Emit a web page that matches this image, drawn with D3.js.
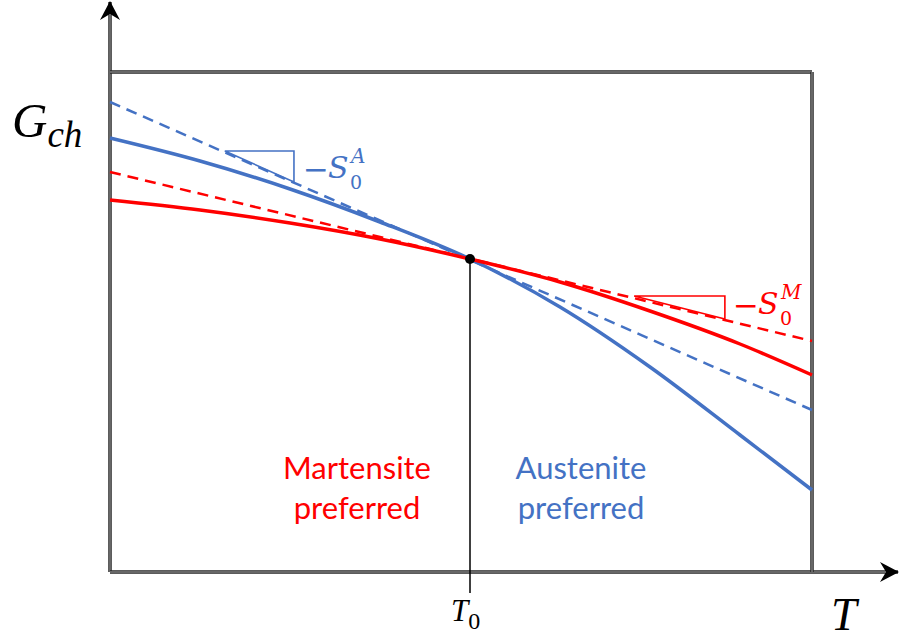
<!DOCTYPE html>
<html>
<head>
<meta charset="utf-8">
<script src="https://cdn.jsdelivr.net/npm/d3@7"></script>
<style>
  body { margin: 0; background: #fff; }
  svg { display: block; }
  .math { font-family: "Liberation Serif", "DejaVu Serif", serif; }
  .sym { font-family: "DejaVu Serif", serif; }
  .note { font-family: Lato, "Open Sans", sans-serif; font-size: 31px; }
</style>
</head>
<body>
<script>
// temperature grid (T0 = 1) and Gibbs energies
var temps = [0, 0.25, 0.5, 0.75, 1, 1.25, 1.5, 1.75, 1.95];
var austenite = [8.68, 8.22, 7.66, 7.00, 6.26, 5.30, 4.10, 2.74, 1.64];
var martensite = [7.44, 7.24, 6.98, 6.66, 6.26, 5.80, 5.22, 4.56, 3.94];
var tangentT = [0, 1.95];
var tangentA = [9.40, 3.24];
var tangentM = [8.00, 4.62];
var T0 = 1, G0 = 6.26;
// slope triangles [T left, T right, G top, G bottom]
var triA = [0.319, 0.511, 8.42, 7.80];
var triM = [1.456, 1.708, 5.52, 5.06];

var blue = "#4472C4", red = "#FF0000";
var W = 900, H = 640;

var svg = d3.select("body").append("svg")
    .attr("width", W)
    .attr("height", H);

var x = d3.scaleLinear().domain([0, 1.95]).range([110, 812]);
var y = d3.scaleLinear().domain([0, 10]).range([572, 72]);

// arrow head
var defs = svg.append("defs");
defs.append("marker")
    .attr("id", "arr")
    .attr("viewBox", "0 0 20 20")
    .attr("refX", 18).attr("refY", 10)
    .attr("markerWidth", 20).attr("markerHeight", 20)
    .attr("markerUnits", "userSpaceOnUse")
    .attr("orient", "auto")
  .append("path")
    .attr("d", "M0,0 L19,10 L0,20 L6,10 Z")
    .attr("fill", "#000");

// frame drawn as double lines
function dbl(x1, y1, x2, y2, arrow) {
  var l = svg.append("line")
      .attr("x1", x1).attr("y1", y1).attr("x2", x2).attr("y2", y2)
      .attr("stroke", "#262626").attr("stroke-width", 3.5);
  if (arrow) l.attr("marker-end", "url(#arr)");
  svg.append("line")
      .attr("x1", x1).attr("y1", y1).attr("x2", arrow ? x2 - (x2 - x1 ? 12 : 0) : x2)
      .attr("y2", arrow ? y2 + (y2 - y1 ? 12 : 0) : y2)
      .attr("stroke", "#a8a8a8").attr("stroke-width", 1);
}
dbl(x(0), y(0), x(0), 2, true);            // vertical axis
dbl(x(0), y(0), 898, y(0), true);          // horizontal axis
dbl(x(0), y(10), x(1.95), y(10), false);   // top
dbl(x(1.95), y(10), x(1.95), y(0), false); // right

var line = d3.line()
    .x(function(d){ return x(d[0]); })
    .y(function(d){ return y(d[1]); })
    .curve(d3.curveMonotoneX);

// tangents
svg.append("path")
    .datum(d3.zip(tangentT, tangentA))
    .attr("d", line)
    .attr("fill", "none").attr("stroke", blue)
    .attr("stroke-width", 2.5).attr("stroke-dasharray", "11,7");
svg.append("path")
    .datum(d3.zip(tangentT, tangentM))
    .attr("d", line)
    .attr("fill", "none").attr("stroke", red)
    .attr("stroke-width", 2.5).attr("stroke-dasharray", "11,7");

// curves
svg.append("path")
    .datum(d3.zip(temps, austenite))
    .attr("d", line)
    .attr("fill", "none").attr("stroke", blue).attr("stroke-width", 3.5);
svg.append("path")
    .datum(d3.zip(temps, martensite))
    .attr("d", line)
    .attr("fill", "none").attr("stroke", red).attr("stroke-width", 3.5);

// slope triangles
function tri(t, col) {
  svg.append("path")
      .attr("d", "M" + x(t[0]) + "," + y(t[2]) + "L" + x(t[1]) + "," + y(t[2]) +
                 "L" + x(t[1]) + "," + y(t[3]) + "Z")
      .attr("fill", "none").attr("stroke", col).attr("stroke-width", 1.6);
}
tri(triA, blue);
tri(triM, red);

// T0 marker
svg.append("line")
    .attr("x1", x(T0)).attr("y1", y(G0))
    .attr("x2", x(T0)).attr("y2", y(0) + 21)
    .attr("stroke", "#000").attr("stroke-width", 1.5);
svg.append("circle")
    .attr("cx", x(T0)).attr("cy", y(G0)).attr("r", 5)
    .attr("fill", "#000");

// entropy labels: -S, subscript 0 and phase superscript
function slopeLabel(px, base, sup, col) {
  var t = svg.append("text").attr("class", "sym").attr("fill", col);
  t.append("tspan").attr("x", px - 4).attr("y", base + 2)
      .attr("font-size", 31).text("\u2212");
  t.append("tspan").attr("x", px + 21).attr("y", base)
      .attr("font-size", 30).attr("font-style", "italic").text("S");
  t.append("tspan").attr("x", px + 43).attr("y", base + 11)
      .attr("font-size", 19).text("0");
  t.append("tspan").attr("x", px + 44).attr("y", base - 15)
      .attr("font-size", 20).attr("font-style", "italic").text(sup);
}
slopeLabel(307, 178, "A", blue);
slopeLabel(737, 314, "M", red);

// axis labels
var gl = svg.append("text").attr("class", "math").attr("x", 12).attr("y", 137);
gl.append("tspan").attr("font-size", 49).attr("font-style", "italic").text("G");
gl.append("tspan").attr("font-size", 37).attr("font-style", "italic")
    .attr("dy", 10).text("ch");

svg.append("text").attr("class", "math")
    .attr("x", 831).attr("y", 630)
    .attr("font-size", 46).attr("font-style", "italic").text("T");

var t0 = svg.append("text").attr("class", "math").attr("x", 451).attr("y", 621);
t0.append("tspan").attr("font-size", 31).attr("font-style", "italic").text("T");
t0.append("tspan").attr("font-size", 24).attr("dy", 8).text("0");

// region notes
var notes = [["Martensite", "preferred", 357, red], ["Austenite", "preferred", 581, blue]];
notes.forEach(function(n) {
  var t = svg.append("text").attr("class", "note")
      .attr("text-anchor", "middle").attr("fill", n[3]);
  t.append("tspan").attr("x", n[2]).attr("y", 479).text(n[0]);
  t.append("tspan").attr("x", n[2]).attr("y", 519).text(n[1]);
});
</script>
</body>
</html>
